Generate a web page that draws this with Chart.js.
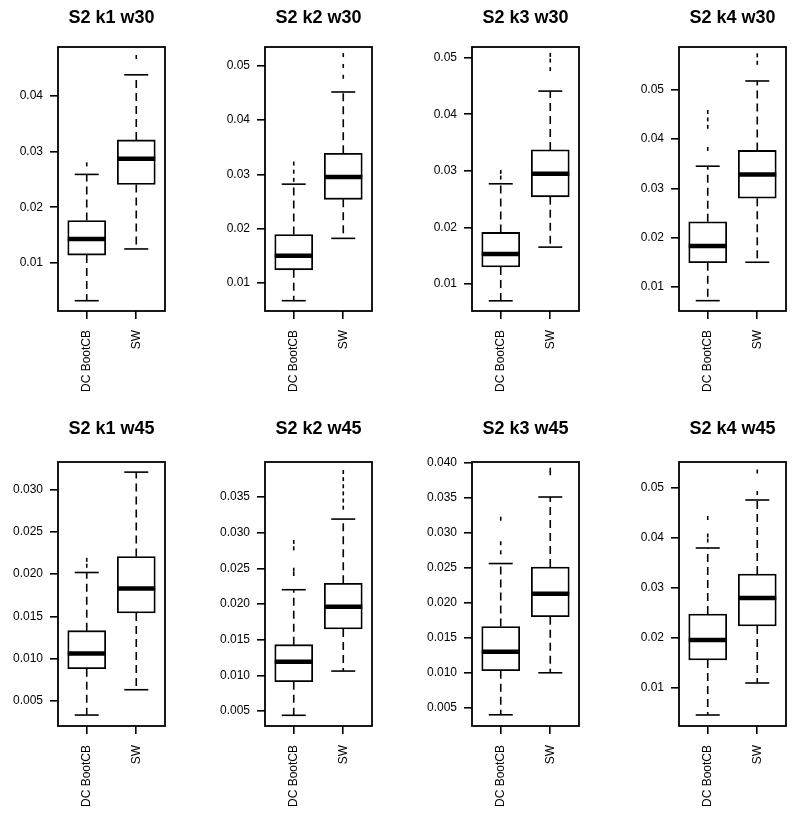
<!DOCTYPE html>
<html>
<head>
<meta charset="utf-8">
<script src="https://cdn.jsdelivr.net/npm/chart.js@4.4.1/dist/chart.umd.min.js"></script>
<style>
	body { margin: 0; background: #fff; overflow: hidden; }
	canvas { position: absolute; }
</style>
</head>
<body>
<div id="container"></div>
<script>
// panel titles, 2 rows x 4 columns
const panelTitles = ['S2 k1 w30', 'S2 k2 w30', 'S2 k3 w30', 'S2 k4 w30',
	'S2 k1 w45', 'S2 k2 w45', 'S2 k3 w45', 'S2 k4 w45'];
const groups = ['DC BootCB', 'SW'];

// box stats per panel: [DC BootCB, SW]
const whiskerLow = [[0.0032, 0.0125], [0.0067, 0.0182], [0.0070, 0.0165], [0.0072, 0.0150],
	[0.0033, 0.0063], [0.0044, 0.0106], [0.0040, 0.0100], [0.0046, 0.0110]];
const q1 = [[0.0114, 0.0241], [0.0124, 0.0254], [0.0130, 0.0254], [0.0149, 0.0280],
	[0.0088, 0.0154], [0.0091, 0.0165], [0.0103, 0.0180], [0.0156, 0.0224]];
const median = [[0.0143, 0.0287], [0.0150, 0.0295], [0.0153, 0.0295], [0.0183, 0.0328],
	[0.0106, 0.0183], [0.0119, 0.0196], [0.0130, 0.0213], [0.0196, 0.0280]];
const q3 = [[0.0176, 0.0321], [0.0189, 0.0339], [0.0191, 0.0337], [0.0232, 0.0377],
	[0.0133, 0.0221], [0.0143, 0.0229], [0.0166, 0.0251], [0.0248, 0.0328]];
const whiskerHigh = [[0.0259, 0.0438], [0.0282, 0.0452], [0.0277, 0.0441], [0.0345, 0.0518],
	[0.0202, 0.0321], [0.0220, 0.0319], [0.0256, 0.0351], [0.0380, 0.0476]];
const outliers = [
	[[0.0277], [0.047]],
	[[0.029, 0.0305, 0.032], [0.048, 0.050, 0.052]],
	[[0.0288, 0.0298], [0.048, 0.0495, 0.0505]],
	[[0.038, 0.0425, 0.044, 0.0455], [0.0555, 0.057]],
	[[0.021, 0.0217], []],
	[[0.0242, 0.0248, 0.0278, 0.0287], [0.0335, 0.0345, 0.0355, 0.0365, 0.0375, 0.0385]],
	[[0.0272, 0.0285, 0.032], [0.0385, 0.039]],
	[[0.0395, 0.0405, 0.044], [0.049, 0.0533]]
];

// y axis range and tick labels
const yMin = [0.00135, 0.0048, 0.0052, 0.0051, 0.0020, 0.0029, 0.0024, 0.0024];
const yMax = [0.0488, 0.0535, 0.0519, 0.0587, 0.0333, 0.0399, 0.0401, 0.0552];
const yTickLabels = [
	['0.01', '0.02', '0.03', '0.04'],
	['0.01', '0.02', '0.03', '0.04', '0.05'],
	['0.01', '0.02', '0.03', '0.04', '0.05'],
	['0.01', '0.02', '0.03', '0.04', '0.05'],
	['0.005', '0.010', '0.015', '0.020', '0.025', '0.030'],
	['0.005', '0.010', '0.015', '0.020', '0.025', '0.030', '0.035'],
	['0.005', '0.010', '0.015', '0.020', '0.025', '0.030', '0.035', '0.040'],
	['0.01', '0.02', '0.03', '0.04', '0.05']
];

const FONT = "'Liberation Sans', Arial, sans-serif";

// box frame around the plot area (like R's box())
const framePlugin = {
	id: 'frame',
	afterDraw(chart) {
		const a = chart.chartArea;
		const ctx = chart.ctx;
		ctx.save();
		ctx.strokeStyle = '#000';
		ctx.lineWidth = 1.8;
		ctx.strokeRect(a.left, a.top, a.right - a.left, a.bottom - a.top);
		ctx.restore();
	}
};

function pts(vals) {
	return vals.map((v, k) => ({ x: k + 1, y: v }));
}

function makePanel(i) {
	const row = Math.floor(i / 4), col = i % 4;
	const cv = document.createElement('canvas');
	cv.width = 175;
	cv.height = 400;
	cv.style.left = (col * 207) + 'px';
	cv.style.top = (row * 415) + 'px';
	document.getElementById('container').appendChild(cv);

	// outlier points
	let outPts = [];
	outliers[i].forEach((list, k) => list.forEach(v => outPts.push({ x: k + 1, y: v })));

	// dashed whiskers, from the box edge out
	let whiskers = [];
	groups.forEach((g, k) => {
		whiskers.push([{ x: k + 1, y: q3[i][k] }, { x: k + 1, y: whiskerHigh[i][k] }]);
		whiskers.push([{ x: k + 1, y: q1[i][k] }, { x: k + 1, y: whiskerLow[i][k] }]);
	});

	const datasets = [
		{ type: 'scatter', data: outPts, pointStyle: 'line', pointRotation: 90, pointRadius: 2,
			pointBorderColor: '#000', pointBorderWidth: 1.6 },
		{ type: 'scatter', data: pts(median[i]), pointStyle: 'line', pointRadius: 19,
			pointBorderColor: '#000', pointBorderWidth: 4.5 },
		{ type: 'scatter', data: pts(whiskerLow[i]).concat(pts(whiskerHigh[i])), pointStyle: 'line',
			pointRadius: 12, pointBorderColor: '#000', pointBorderWidth: 1.6 },
		{ type: 'bar', data: groups.map((g, k) => ({ x: k + 1, y: [q1[i][k], q3[i][k]] })),
			backgroundColor: '#fff', borderColor: '#000', borderWidth: 1.8, borderSkipped: false,
			barThickness: 38 }
	].concat(whiskers.map(w => ({
		type: 'line', data: w, borderColor: '#000', borderWidth: 1.6, borderDash: [8, 5],
		pointRadius: 0, fill: false
	})));

	new Chart(cv, {
		type: 'bar',
		data: { datasets: datasets },
		options: {
			responsive: false,
			animation: false,
			events: [],
			layout: { autoPadding: false, padding: { left: 0, right: 10, top: 0, bottom: 0 } },
			plugins: {
				legend: { display: false },
				tooltip: { enabled: false },
				title: {
					display: true,
					text: panelTitles[i],
					fullSize: false,
					color: '#000',
					font: { family: FONT, size: 18, weight: 'bold', lineHeight: 1 },
					padding: { top: row === 0 ? 9 : 5, bottom: row === 0 ? 20 : 24 }
				}
			},
			scales: {
				x: {
					type: 'linear',
					min: 0.42,
					max: 2.58,
					offset: false,
					border: { display: false },
					grid: { display: true, offset: false, drawOnChartArea: false, drawTicks: true,
						tickLength: 8, color: '#000', lineWidth: 1.6 },
					afterBuildTicks: s => { s.ticks = groups.map((g, k) => ({ value: k + 1 })); },
					afterFit: s => { s.height = 89; s.paddingLeft = 0; s.paddingRight = 0; },
					ticks: {
						autoSkip: false, minRotation: 90, maxRotation: 90, padding: 11,
						color: '#000', font: { family: FONT, size: 12 },
						callback: v => groups[v - 1]
					}
				},
				y: {
					type: 'linear',
					min: yMin[i],
					max: yMax[i],
					border: { display: false },
					grid: { display: true, drawOnChartArea: false, drawTicks: true,
						tickLength: 8, color: '#000', lineWidth: 1.6 },
					afterBuildTicks: s => { s.ticks = yTickLabels[i].map(t => ({ value: parseFloat(t) })); },
					afterFit: s => { s.width = 58; s.paddingTop = 0; s.paddingBottom = 0; },
					ticks: {
						padding: 7, color: '#000', font: { family: FONT, size: 12 },
						callback: (v, idx) => yTickLabels[i][idx]
					}
				}
			}
		},
		plugins: [framePlugin]
	});
}

for (let i = 0; i < 8; i++) {
	makePanel(i);
}
</script>
</body>
</html>
